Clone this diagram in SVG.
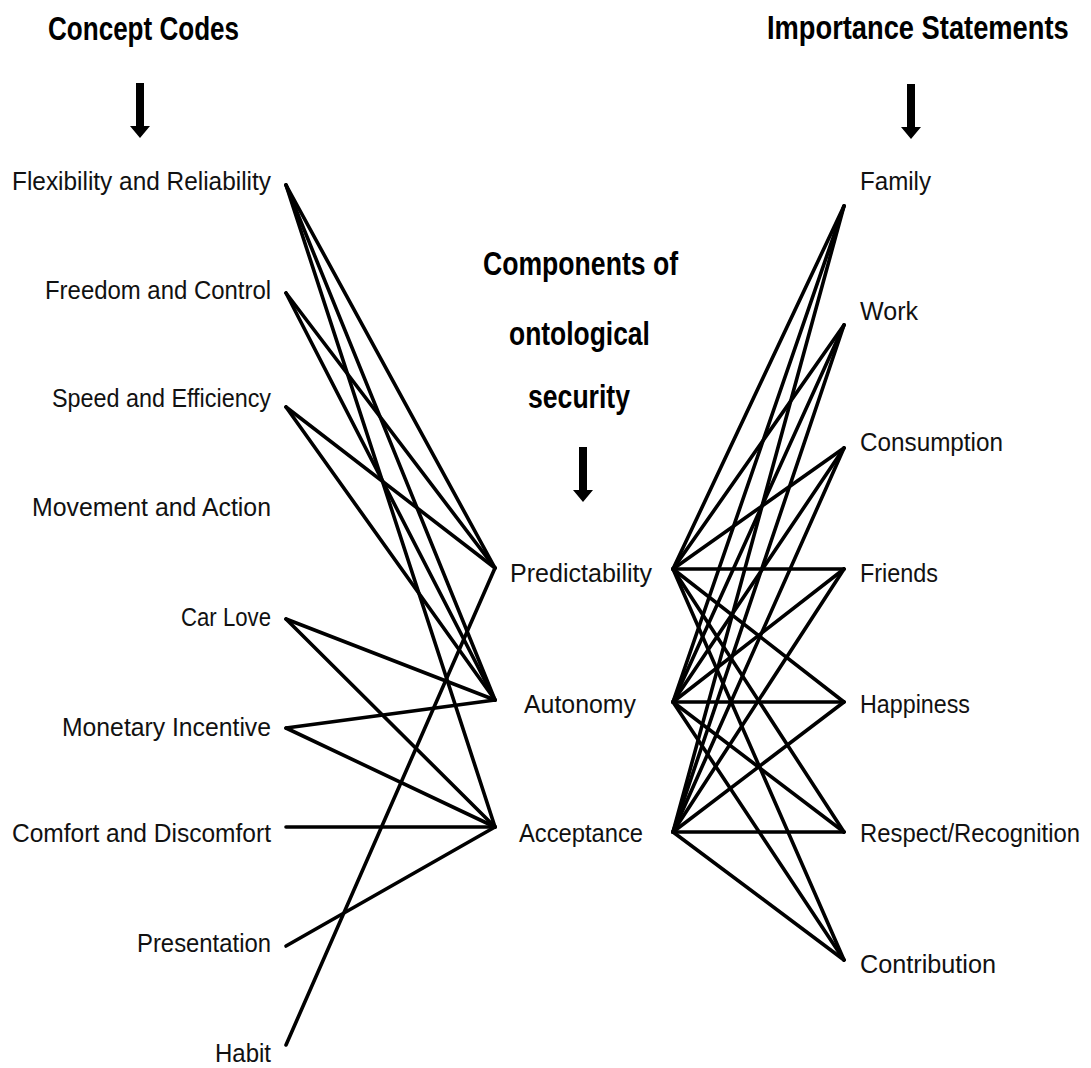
<svg xmlns="http://www.w3.org/2000/svg" width="1091" height="1068" viewBox="0 0 1091 1068">
  <style>
    .head { font-family: "Liberation Sans", Arial, sans-serif; font-weight: bold; font-size: 33px; fill: #000; }
    .lbl { font-family: "Liberation Sans", Arial, sans-serif; font-size: 25px; fill: #111; }
    .end { text-anchor: end; }
    .link { stroke: #000; stroke-width: 3.6; stroke-linecap: round; fill: none; }
  </style>
  <defs>
    <path id="down-arrow" d="M-4,0 H4 V43 H10 L0,55 L-10,43 H-4 Z" fill="#000"/>
  </defs>
  <rect width="1091" height="1068" fill="#fff"/>

  <!-- column headings (condensed bold) -->
  <g id="heading-concept-codes">
    <text class="head" transform="translate(48,40) scale(0.79,1)">Concept Codes</text>
    <use href="#down-arrow" x="140" y="83"/>
  </g>
  <g id="heading-importance-statements">
    <text class="head" transform="translate(767,39) scale(0.827,1)">Importance Statements</text>
    <use href="#down-arrow" x="911" y="84"/>
  </g>
  <g id="heading-components">
    <text class="head" transform="translate(483,275) scale(0.806,1)">Components of</text>
    <text class="head" transform="translate(509,345) scale(0.801,1)">ontological</text>
    <text class="head" transform="translate(528,408) scale(0.806,1)">security</text>
    <use href="#down-arrow" x="583" y="447"/>
  </g>

  <!-- connectors -->
  <g id="connectors" class="link">
    <!-- concept codes to components -->
    <line x1="286" y1="185" x2="495" y2="568"/>
    <line x1="286" y1="185" x2="495" y2="700"/>
    <line x1="286" y1="185" x2="495" y2="827"/>
    <line x1="286" y1="293" x2="495" y2="568"/>
    <line x1="286" y1="293" x2="495" y2="700"/>
    <line x1="286" y1="407" x2="495" y2="568"/>
    <line x1="286" y1="407" x2="495" y2="700"/>
    <line x1="286" y1="619" x2="495" y2="700"/>
    <line x1="286" y1="619" x2="495" y2="827"/>
    <line x1="286" y1="728" x2="495" y2="700"/>
    <line x1="286" y1="728" x2="495" y2="827"/>
    <line x1="286" y1="827" x2="495" y2="827"/>
    <line x1="286" y1="946" x2="495" y2="827"/>
    <line x1="286" y1="1045" x2="495" y2="568"/>
    <!-- components to importance statements -->
    <line x1="673" y1="569" x2="844" y2="206"/>
    <line x1="673" y1="569" x2="844" y2="325"/>
    <line x1="673" y1="569" x2="844" y2="448"/>
    <line x1="673" y1="569" x2="844" y2="569"/>
    <line x1="673" y1="569" x2="844" y2="702"/>
    <line x1="673" y1="569" x2="844" y2="832"/>
    <line x1="673" y1="569" x2="844" y2="960"/>
    <line x1="673" y1="702" x2="844" y2="206"/>
    <line x1="673" y1="702" x2="844" y2="325"/>
    <line x1="673" y1="702" x2="844" y2="448"/>
    <line x1="673" y1="702" x2="844" y2="569"/>
    <line x1="673" y1="702" x2="844" y2="702"/>
    <line x1="673" y1="702" x2="844" y2="832"/>
    <line x1="673" y1="702" x2="844" y2="960"/>
    <line x1="673" y1="832" x2="844" y2="206"/>
    <line x1="673" y1="832" x2="844" y2="325"/>
    <line x1="673" y1="832" x2="844" y2="448"/>
    <line x1="673" y1="832" x2="844" y2="569"/>
    <line x1="673" y1="832" x2="844" y2="702"/>
    <line x1="673" y1="832" x2="844" y2="832"/>
    <line x1="673" y1="832" x2="844" y2="960"/>
  </g>

  <!-- concept codes -->
  <g id="code-flexibility"><text class="lbl end" x="271" y="190" textLength="259" lengthAdjust="spacingAndGlyphs">Flexibility and Reliability</text></g>
  <g id="code-freedom"><text class="lbl end" x="271" y="299" textLength="226" lengthAdjust="spacingAndGlyphs">Freedom and Control</text></g>
  <g id="code-speed"><text class="lbl end" x="271" y="407" textLength="219" lengthAdjust="spacingAndGlyphs">Speed and Efficiency</text></g>
  <g id="code-movement"><text class="lbl end" x="271" y="516" textLength="239" lengthAdjust="spacingAndGlyphs">Movement and Action</text></g>
  <g id="code-car-love"><text class="lbl end" x="271" y="626" textLength="90" lengthAdjust="spacingAndGlyphs">Car Love</text></g>
  <g id="code-monetary"><text class="lbl end" x="271" y="736" textLength="209" lengthAdjust="spacingAndGlyphs">Monetary Incentive</text></g>
  <g id="code-comfort"><text class="lbl end" x="271" y="842" textLength="259" lengthAdjust="spacingAndGlyphs">Comfort and Discomfort</text></g>
  <g id="code-presentation"><text class="lbl end" x="271" y="952" textLength="134" lengthAdjust="spacingAndGlyphs">Presentation</text></g>
  <g id="code-habit"><text class="lbl end" x="271" y="1062" textLength="56" lengthAdjust="spacingAndGlyphs">Habit</text></g>

  <!-- components of ontological security -->
  <g id="comp-predictability"><text class="lbl" x="510" y="582" textLength="142" lengthAdjust="spacingAndGlyphs">Predictability</text></g>
  <g id="comp-autonomy"><text class="lbl" x="524" y="713" textLength="112" lengthAdjust="spacingAndGlyphs">Autonomy</text></g>
  <g id="comp-acceptance"><text class="lbl" x="519" y="842" textLength="124" lengthAdjust="spacingAndGlyphs">Acceptance</text></g>

  <!-- importance statements -->
  <g id="stmt-family"><text class="lbl" x="860" y="190" textLength="71" lengthAdjust="spacingAndGlyphs">Family</text></g>
  <g id="stmt-work"><text class="lbl" x="860" y="320" textLength="58" lengthAdjust="spacingAndGlyphs">Work</text></g>
  <g id="stmt-consumption"><text class="lbl" x="860" y="451" textLength="143" lengthAdjust="spacingAndGlyphs">Consumption</text></g>
  <g id="stmt-friends"><text class="lbl" x="860" y="582" textLength="78" lengthAdjust="spacingAndGlyphs">Friends</text></g>
  <g id="stmt-happiness"><text class="lbl" x="860" y="713" textLength="110" lengthAdjust="spacingAndGlyphs">Happiness</text></g>
  <g id="stmt-respect"><text class="lbl" x="860" y="842" textLength="220" lengthAdjust="spacingAndGlyphs">Respect/Recognition</text></g>
  <g id="stmt-contribution"><text class="lbl" x="860" y="973" textLength="136" lengthAdjust="spacingAndGlyphs">Contribution</text></g>
</svg>
